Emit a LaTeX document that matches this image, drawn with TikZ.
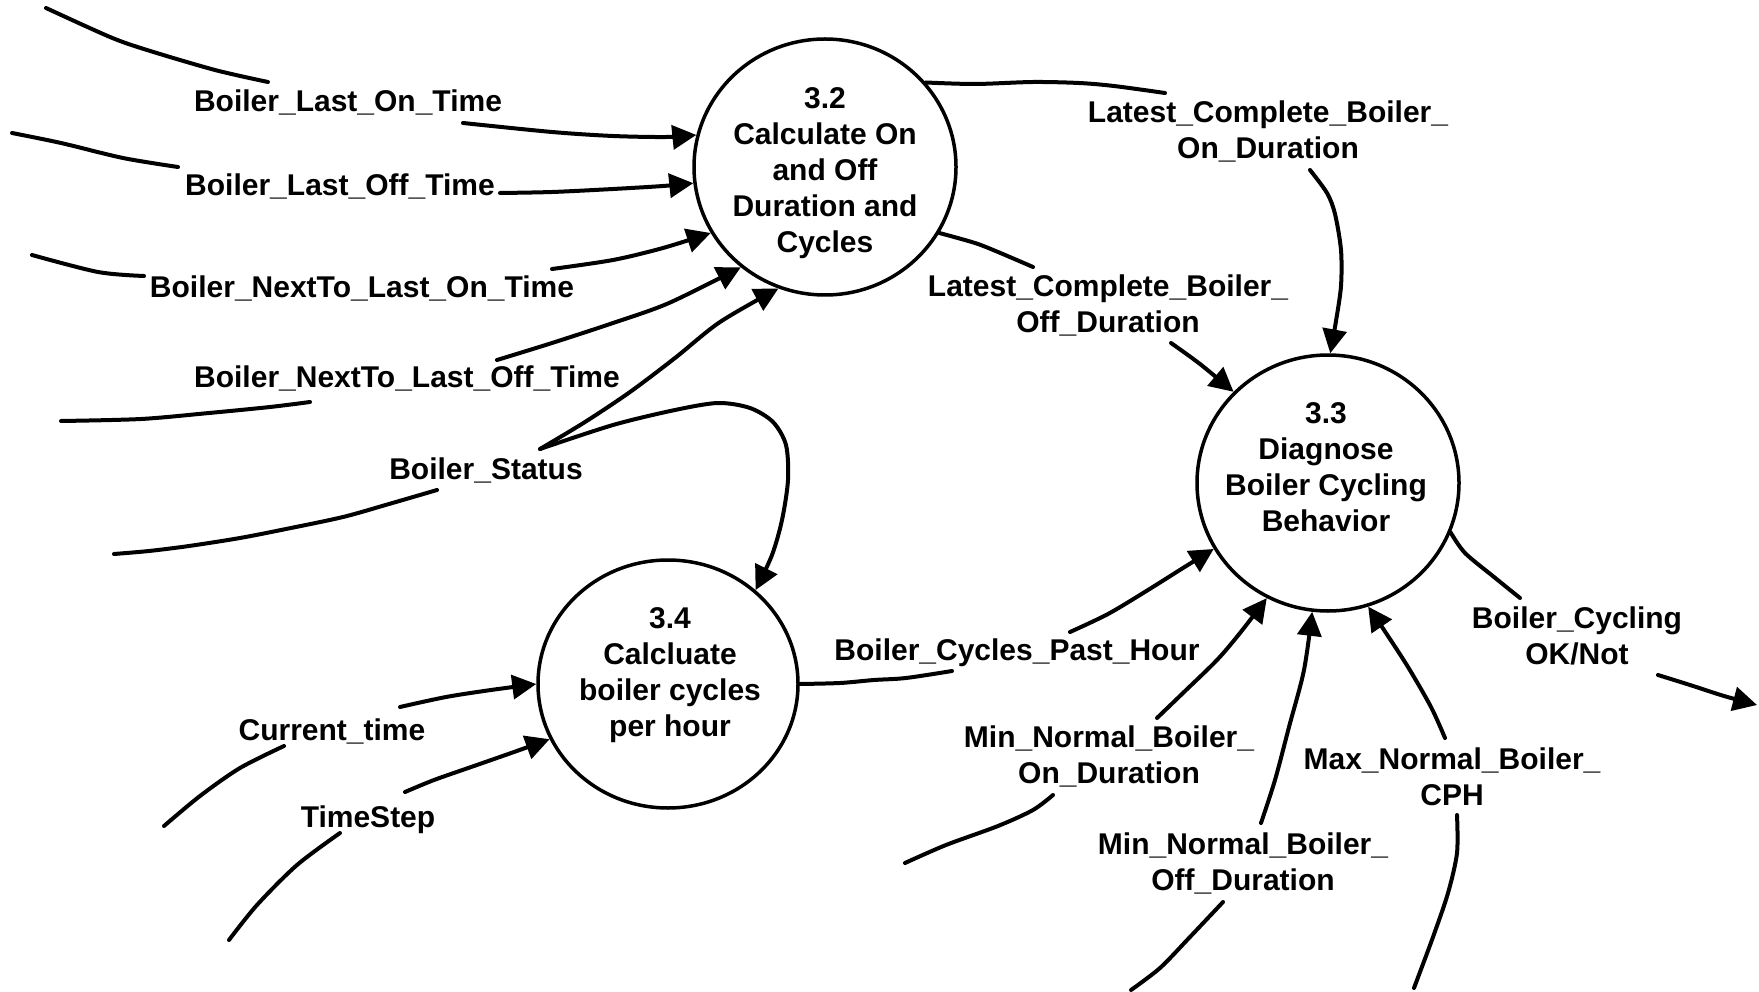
\documentclass[tikz,border=0pt]{standalone}
\usepackage{fontspec}
\setmainfont{Liberation Sans}
\usetikzlibrary{shapes.geometric,arrows.meta}
\tikzset{
  proc/.style={draw, ellipse, line width=3.5pt, minimum width=262pt, minimum height=256pt, inner sep=0pt},
  ptext/.style={align=center, inner sep=0pt, font=\bfseries\fontsize{30}{36}\selectfont},
  flowlbl/.style={align=center, inner sep=0pt, font=\bfseries\fontsize{30}{36}\selectfont},
  flow/.style={line width=4pt, line cap=round, line join=round},
  flowarr/.style={flow, -{Triangle[length=24pt,width=24pt]}},
  sm/.style={smooth, tension=0.5}
}
\begin{document}
\begin{tikzpicture}[x=1pt, y=-1pt]
\useasboundingbox (0,0) rectangle (1759,992);
% processes
\node[proc] (c32) at (825,167) {};
\node[proc] (c33) at (1328,483) {};
\node[proc, minimum height=248pt, minimum width=260pt] (c34) at (668,684) {};
\node[ptext] (t32) at (825,173) {3.2\\Calculate On\\and Off\\Duration and\\Cycles};
\node[ptext] (t33) at (1326,467) {3.3\\Diagnose\\Boiler Cycling\\Behavior};
\node[ptext] (t34) at (670,675) {3.4\\Calcluate\\boiler cycles\\per hour};
% labels
\node[flowlbl] (l1) at (348,102) {Boiler\_Last\_On\_Time};
\node[flowlbl] (l2) at (340,186) {Boiler\_Last\_Off\_Time};
\node[flowlbl] (l3) at (362,288) {Boiler\_NextTo\_Last\_On\_Time};
\node[flowlbl] (l4) at (407,378) {Boiler\_NextTo\_Last\_Off\_Time};
\node[flowlbl] (l5) at (486,470) {Boiler\_Status};
\node[flowlbl] (l6) at (1268,131) {Latest\_Complete\_Boiler\_\\On\_Duration};
\node[flowlbl] (l7) at (1108,305) {Latest\_Complete\_Boiler\_\\Off\_Duration};
\node[flowlbl] (l8) at (1017,653) {Boiler\_Cycles\_Past\_Hour};
\node[flowlbl] (l9) at (1109,756) {Min\_Normal\_Boiler\_\\On\_Duration};
\node[flowlbl] (l10) at (1243,863) {Min\_Normal\_Boiler\_\\Off\_Duration};
\node[flowlbl] (l11) at (1452,777) {Max\_Normal\_Boiler\_\\CPH};
\node[flowlbl] (l12) at (1577,636) {Boiler\_Cycling\\OK/Not};
\node[flowlbl] (l13) at (332,731) {Current\_time};
\node[flowlbl] (l14) at (368,820) {TimeStep};
% free ends
\coordinate (s1) at (46,8);
\coordinate (s2) at (12,133);
\coordinate (s3) at (32,255);
\coordinate (s4) at (61,421);
\coordinate (s5) at (114,554);
\coordinate (j5) at (540,449);
\coordinate (s9) at (905,863);
\coordinate (s10) at (1131,990);
\coordinate (s11) at (1414,988);
\coordinate (e12) at (1757,705);
\coordinate (s13) at (164,826);
\coordinate (s14) at (229,940);
% Boiler_Last_On_Time
\draw[flow] plot[sm] coordinates {(s1) (110,37) (147,50) (215,70) (268,82)};
\draw[flowarr] plot[sm] coordinates {(463,123) (552,132) (613,136) (666,137) (c32.166.6)};
% Boiler_Last_Off_Time
\draw[flow] plot[sm] coordinates {(s2) (61,143) (123,158) (178,167)};
\draw[flowarr] plot[sm] coordinates {(500,193) (552,192) (613,189) (663,186) (c32.187)};
% Boiler_NextTo_Last_On_Time
\draw[flow] plot[sm] coordinates {(s3) (98,272) (144,276)};
\draw[flowarr] plot[sm] coordinates {(552,269) (613,260) (663,248) (c32.210.8)};
% Boiler_NextTo_Last_Off_Time
\draw[flow] plot[sm] coordinates {(s4) (141,419) (209,413) (270,407) (310,402)};
\draw[flowarr] plot[sm] coordinates {(497,360) (552,343) (613,323) (669,303) (c32.230.3)};
% Boiler_Status
\draw[flow] plot[sm] coordinates {(s5) (149,551) (189,546) (240,538) (286,529) (343,517) (389,504) (437,490)};
\draw[flowarr] plot[sm] coordinates {(j5) (585,422) (630,392) (675,358) (720,322) (c32.249.8)};
\draw[flowarr] plot[sm] coordinates {(j5) (613,425) (675,410) (718,403) (750,408) (773,422) (786,445) (788,480) (782,520) (772,555) (c34.47)};
% Latest_Complete_Boiler_On_Duration
\draw[flow] plot[sm] coordinates {(c32.40) (975,84) (1033,82) (1079,83) (1114,86) (1165,93)};
\draw[flowarr] plot[sm] coordinates {(1310,170) (1327,193) (1335,214) (1341,250) (1341,286) (1336,321) (c33.89)};
% Latest_Complete_Boiler_Off_Duration
\draw[flow] plot[sm] coordinates {(c32.330) (975,243) (998,252) (1033,267)};
\draw[flowarr] plot[sm] coordinates {(1171,343) (1200,364) (c33.136)};
% Boiler_Cycles_Past_Hour
\draw[flow] plot[sm] coordinates {(c34.0) (840,683) (874,680) (906,678) (952,671)};
\draw[flowarr] plot[sm] coordinates {(1070,632) (1108,614) (1148,590) (1183,568) (c33.210)};
% Min_Normal_Boiler_On_Duration
\draw[flow] plot[sm] coordinates {(s9) (946,845) (998,826) (1033,810) (1053,795)};
\draw[flowarr] plot[sm] coordinates {(1157,718) (1183,693) (1217,660) (1240,633) (c33.242.2)};
% Min_Normal_Boiler_Off_Duration
\draw[flow] plot[sm] coordinates {(s10) (1160,968) (1189,938) (1223,902)};
\draw[flowarr] plot[sm] coordinates {(1261,823) (1275,780) (1289,727) (1304,670) (c33.263)};
% Max_Normal_Boiler_CPH
\draw[flow] plot[sm] coordinates {(s11) (1433,937) (1448,893) (1457,853) (1457,815)};
\draw[flowarr] plot[sm] coordinates {(1445,738) (1431,707) (1408,667) (1384,630) (c33.288.3)};
% Boiler_Cycling OK/Not
\draw[flow] plot[sm] coordinates {(c33.338.6) (1465,553) (1494,577) (1520,598)};
\draw[flowarr] plot[sm] coordinates {(1658,675) (1690,685) (1724,696) (e12)};
% Current_time
\draw[flow] plot[sm] coordinates {(s13) (200,796) (240,768) (284,746)};
\draw[flowarr] plot[sm] coordinates {(400,707) (446,697) (491,690) (c34.180)};
% TimeStep
\draw[flow] plot[sm] coordinates {(s14) (257,905) (297,865) (340,833)};
\draw[flowarr] plot[sm] coordinates {(405,792) (434,780) (474,766) (514,752) (c34.205)};
\end{tikzpicture}
\end{document}
